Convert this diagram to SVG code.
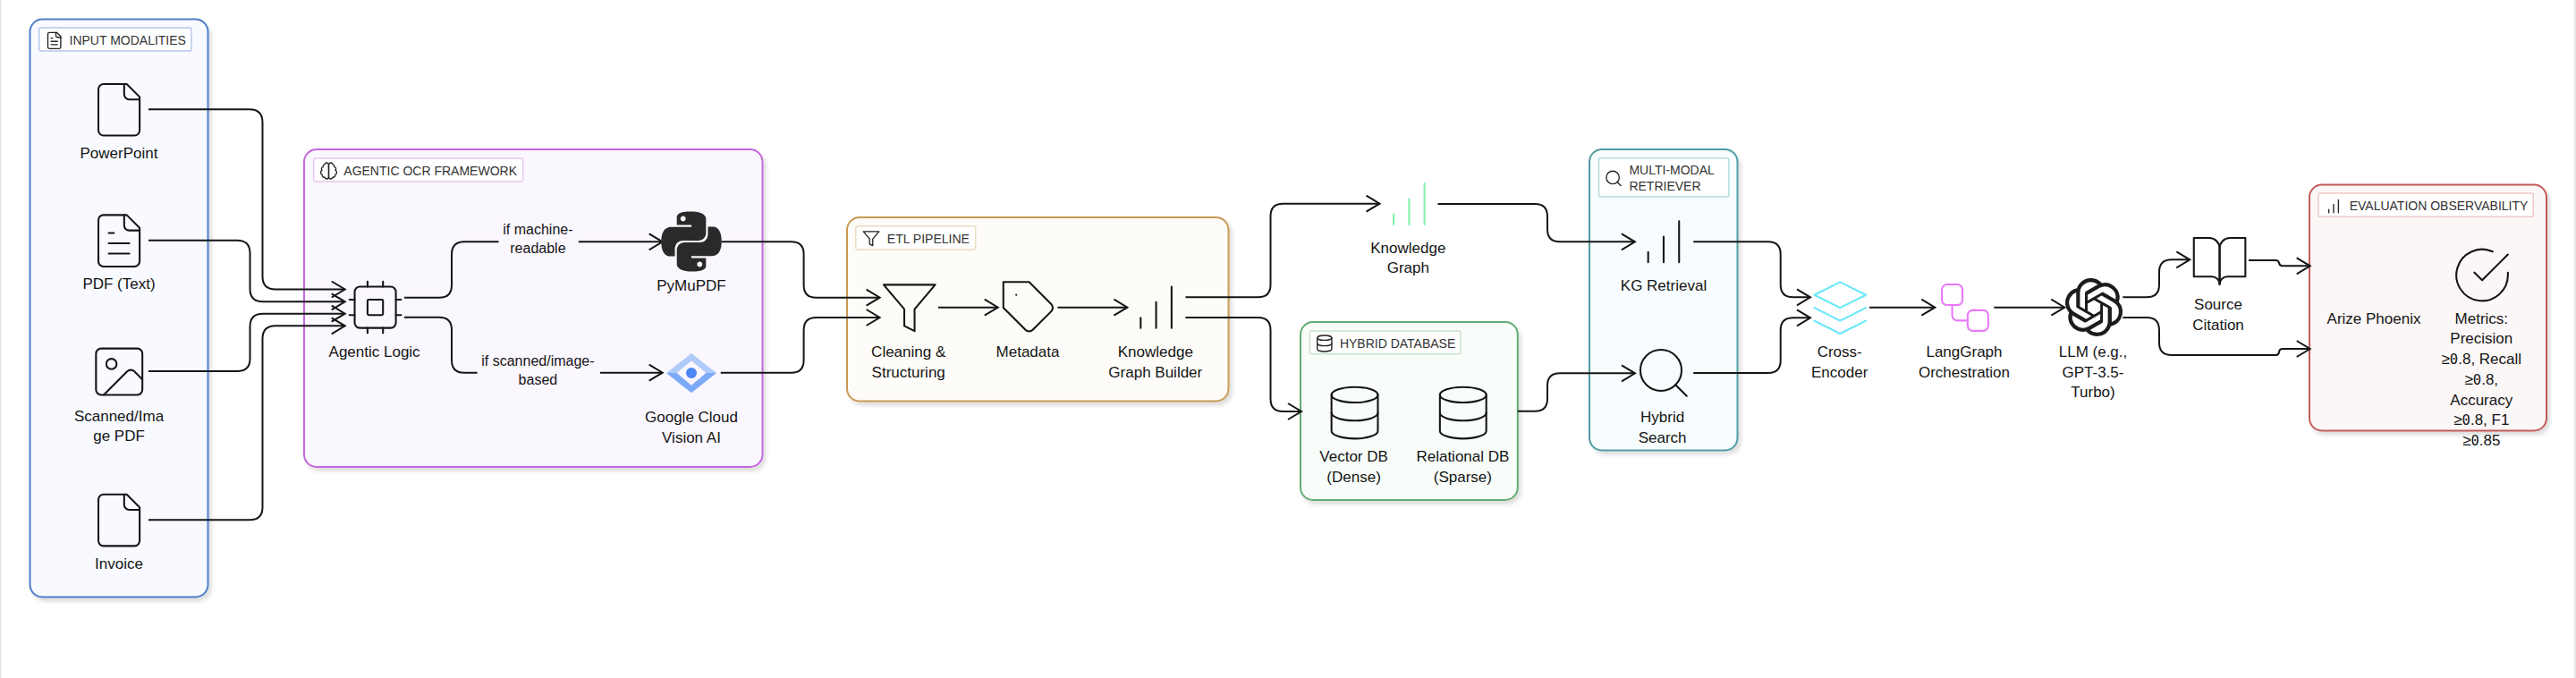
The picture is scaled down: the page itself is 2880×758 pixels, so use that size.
<svg xmlns="http://www.w3.org/2000/svg" width="2880" height="758" viewBox="0 0 2880 758">
<style>
text{font-family:"Liberation Sans",Arial,sans-serif;fill:#151515}
.n{font-size:17px;text-anchor:middle}
.e{font-size:16px;text-anchor:middle}
.h{font-size:14px;fill:#333}
.z{font-family:"DejaVu Sans Mono",monospace;font-size:15.5px}
.c{stroke-width:2;rx:14px}
.t{fill:#fff;stroke-width:1.5;rx:2px}
.i{fill:none;stroke:#151515;stroke-width:.72;stroke-linecap:round;stroke-linejoin:round}
.s{fill:none;stroke:#222;stroke-width:1.5;stroke-linecap:round;stroke-linejoin:round}
#connectors path{fill:none;stroke:#151515;stroke-width:2}
#connectors path.a{marker-end:url(#arr)}
</style>
<defs>
<filter id="sh" x="-5%" y="-5%" width="112%" height="112%"><feDropShadow dx="3" dy="4" stdDeviation="2" flood-color="#000" flood-opacity=".13"/></filter>
<marker id="arr" markerUnits="userSpaceOnUse" markerWidth="20" markerHeight="24" viewBox="-17 -12 20 24" refX="0" refY="0" orient="auto"><path d="M-15-9 L0 0 L-15 9" fill="none" stroke="#151515" stroke-width="2"/></marker>
<g id="file"><path d="M15 2H6a2 2 0 0 0-2 2v16a2 2 0 0 0 2 2h12a2 2 0 0 0 2-2V7Z"/><path d="M14 2v4a2 2 0 0 0 2 2h4"/></g>
<g id="filetext"><use href="#file"/><path d="M10 9H8M16 13H8M16 17H8"/></g>
<g id="bars"><path d="M12 20V10M18 20V4M6 20v-4"/></g>
<polygon id="funnel" points="22 3 2 3 10 12.46 10 19 14 21 14 12.46 22 3"/>
<g id="db"><ellipse cx="12" cy="5" rx="9" ry="3"/><path d="M3 5v14a9 3 0 0 0 18 0V5"/><path d="M3 12a9 3 0 0 0 18 0"/></g>
<g id="search"><circle cx="11" cy="11" r="8"/><path d="M21 21l-4.35-4.35"/></g>
</defs>
<rect width="2880" height="758" fill="#fff"/>
<rect x="0" y="0" width="1.5" height="758" fill="#e6e6e6"/>
<rect x="2878" y="0" width="2" height="758" fill="#e6e6e6"/>

<g id="cluster-input" filter="url(#sh)"><rect class="c" x="33.5" y="21.5" width="199" height="646" fill="#f8faff" stroke="#4f7fcb"/></g>
<g id="cluster-agentic" filter="url(#sh)"><rect class="c" x="340" y="167" width="512.5" height="355" fill="#fbf7fe" stroke="#c468dc"/></g>
<g id="cluster-etl" filter="url(#sh)"><rect class="c" x="947" y="243" width="426.5" height="205.5" fill="#fdfcf8" stroke="#c99a55"/></g>
<g id="cluster-hybrid" filter="url(#sh)"><rect class="c" x="1454" y="360" width="242.8" height="199" fill="#f9fdfa" stroke="#62ab76"/></g>
<g id="cluster-retriever" filter="url(#sh)"><rect class="c" x="1777" y="167" width="165.5" height="336.5" fill="#f7fdfe" stroke="#4f9ea2"/></g>
<g id="cluster-eval" filter="url(#sh)"><rect class="c" x="2582" y="206.5" width="265" height="275" fill="#fbf7f7" stroke="#c15a5a"/></g>

<g id="connectors">
<path class="a" d="M166 122.3H279Q293.5 122.3 293.5 137V309Q293.5 323.5 308 323.5H385.7"/>
<path class="a" d="M166 268.7H265Q279.5 268.7 279.5 283V323Q279.5 337.3 294 337.3H385.7"/>
<path class="a" d="M166 415H265Q279.5 415 279.5 401V365Q279.5 350.7 294 350.7H385.7"/>
<path class="a" d="M166 581.3H279Q293.5 581.3 293.5 567V378.7Q293.5 364.3 308 364.3H385.7"/>
<path d="M452 332.7H491Q505 332.7 505 318.7V284.3Q505 270.3 519 270.3H557.5"/>
<path class="a" d="M646.8 270.3H740.7"/>
<path d="M452 354.7H491Q505 354.7 505 368.7V402.7Q505 416.7 519 416.7H533.6"/>
<path class="a" d="M671 416.7H740.7"/>
<path class="a" d="M806.8 270.3H884.6Q898.6 270.3 898.6 284.3V318.7Q898.6 332.7 912.6 332.7H983.6"/>
<path class="a" d="M805.7 416.7H884.6Q898.6 416.7 898.6 402.7V369Q898.6 355 912.6 355H983.6"/>
<path class="a" d="M1049 343.7H1115.7"/>
<path class="a" d="M1182.5 343.7H1260.4"/>
<path class="a" d="M1325.4 332.3H1406.5Q1420.5 332.3 1420.5 318.3V241.7Q1420.5 227.7 1434.5 227.7H1542.5"/>
<path class="a" d="M1325.4 355H1406.5Q1420.5 355 1420.5 369V446Q1420.5 460 1434.5 460H1455"/>
<path class="a" d="M1607.5 228H1716Q1730 228 1730 242V256.3Q1730 270.3 1744 270.3H1827.9"/>
<path class="a" d="M1696.8 459.7H1716Q1730 459.7 1730 445.7V431.3Q1730 417.3 1744 417.3H1828"/>
<path class="a" d="M1893.2 270.3H1976.7Q1990.7 270.3 1990.7 284.3V318.3Q1990.7 332.3 2004.7 332.3H2024"/>
<path class="a" d="M1893.2 417H1976.7Q1990.7 417 1990.7 403V369.3Q1990.7 355.3 2004.7 355.3H2024"/>
<path class="a" d="M2090 343.7H2163.3"/>
<path class="a" d="M2229.3 343.7H2308.3"/>
<path class="a" d="M2373.3 332.3H2400Q2414 332.3 2414 318.3V304.3Q2414 290.3 2428 290.3H2448.3"/>
<path class="a" d="M2373.3 355H2400Q2414 355 2414 369V383Q2414 397 2428 397H2544Q2547.5 397 2548 393.5Q2548.5 390 2552 390H2582.7"/>
<path class="a" d="M2514 291H2544Q2547.5 291 2548 294Q2548.5 297.3 2552 297.3H2582.7"/>
</g>

<g id="label-input"><rect class="t" x="43.7" y="31" width="170.3" height="26" stroke="#b5c8ea"/><use href="#filetext" class="s" transform="translate(49.9 34.5) scale(.9)"/><text class="h" x="77.5" y="50">INPUT MODALITIES</text></g>
<g id="label-agentic"><rect class="t" x="350.7" y="177" width="233.9" height="26" stroke="#e9c6f3"/><g class="s" transform="translate(356.7 180.2) scale(.9)"><path d="M9.5 2A2.5 2.5 0 0 1 12 4.5v15a2.5 2.5 0 0 1-4.96.44 2.5 2.5 0 0 1-2.96-3.08 3 3 0 0 1-.34-5.58 2.5 2.5 0 0 1 1.32-4.24 2.5 2.5 0 0 1 1.98-3A2.5 2.5 0 0 1 9.5 2Z"/><path d="M14.5 2A2.5 2.5 0 0 0 12 4.5v15a2.5 2.5 0 0 0 4.96.44 2.5 2.5 0 0 0 2.96-3.08 3 3 0 0 0 .34-5.58 2.5 2.5 0 0 0-1.32-4.24 2.5 2.5 0 0 0-1.98-3A2.5 2.5 0 0 0 14.5 2Z"/></g><text class="h" x="384.3" y="195.7">AGENTIC OCR FRAMEWORK</text></g>
<g id="label-etl"><rect class="t" x="956.8" y="252.7" width="133.9" height="26.3" stroke="#ecdcc0"/><use href="#funnel" class="s" transform="translate(963.5 256.2) scale(.875)"/><text class="h" x="991.8" y="271.7">ETL PIPELINE</text></g>
<g id="label-hybrid"><rect class="t" x="1464.3" y="370" width="168.6" height="25.7" stroke="#c6e2cd"/><use href="#db" class="s" transform="translate(1470 373.2) scale(.9)"/><text class="h" x="1497.9" y="389">HYBRID DATABASE</text></g>
<g id="label-retriever"><rect class="t" x="1787.5" y="176.7" width="145.4" height="43.3" stroke="#b5dadc"/><use href="#search" class="s" transform="translate(1793.2 188.5) scale(.9)"/><text class="h" x="1821.4" y="195">MULTI-MODAL</text><text class="h" x="1821.4" y="212.7">RETRIEVER</text></g>
<g id="label-eval"><rect class="t" x="2592" y="216" width="240.3" height="26.3" stroke="#efc9c9"/><use href="#bars" class="s" transform="translate(2598.2 219.7) scale(.9)"/><text class="h" x="2626.7" y="235">EVALUATION OBSERVABILITY</text></g>

<g id="node-powerpoint"><use href="#file" class="i" transform="translate(98.5 88.2) scale(2.88)"/><text class="n" x="133" y="176.7">PowerPoint</text></g>
<g id="node-pdf-text"><use href="#filetext" class="i" transform="translate(98.5 234.6) scale(2.88)"/><text class="n" x="133" y="323.3">PDF (Text)</text></g>
<g id="node-scanned"><g class="i" transform="translate(98.7 381) scale(2.88)"><rect x="3" y="3" width="18" height="18" rx="2"/><circle cx="9" cy="9" r="2"/><path d="M21 15l-3.086-3.086a2 2 0 0 0-2.828 0L6 21"/></g><text class="n" x="133" y="470.7">Scanned/Ima</text><text class="n" x="133" y="493.3">ge PDF</text></g>
<g id="node-invoice"><use href="#file" class="i" transform="translate(98.5 547) scale(2.88)"/><text class="n" x="133" y="636">Invoice</text></g>

<g id="node-agentic-logic"><g class="i" transform="translate(385 309) scale(2.88)"><rect x="4" y="4" width="16" height="16" rx="2"/><rect x="9" y="9" width="6" height="6" rx=".5"/><path d="M15 2v2M15 20v2M2 15h2M2 9h2M20 15h2M20 9h2M9 2v2M9 20v2"/></g><text class="n" x="418.6" y="398.5">Agentic Logic</text></g>
<g id="edge-label-machine"><text class="e" x="601.4" y="262">if machine-</text><text class="e" x="601.4" y="283">readable</text></g>
<g id="edge-label-scanned"><text class="e" x="601.4" y="409">if scanned/image-</text><text class="e" x="601.4" y="430">based</text></g>
<g id="node-pymupdf"><path fill="#2a2a2a" transform="translate(739.4 236.4) scale(2.8)" d="M14.25.18l.9.2.73.26.59.3.45.32.34.34.25.34.16.33.1.3.04.26.02.2-.01.13V8.5l-.05.63-.13.55-.21.46-.26.38-.3.31-.33.25-.35.19-.35.14-.33.1-.3.07-.26.04-.21.02H8.77l-.69.05-.59.14-.5.22-.41.27-.33.32-.27.35-.2.36-.15.37-.1.35-.07.32-.04.27-.02.21v3.06H3.17l-.21-.03-.28-.07-.32-.12-.35-.18-.36-.26-.36-.36-.35-.46-.32-.59-.28-.73-.21-.88-.14-1.05-.05-1.23.06-1.22.16-1.04.24-.87.32-.71.36-.57.4-.44.42-.33.42-.24.4-.16.36-.1.32-.05.24-.01h.16l.06.01h8.16v-.83H6.18l-.01-2.75-.02-.37.05-.34.11-.31.17-.28.25-.26.31-.23.38-.2.44-.18.51-.15.58-.12.64-.1.71-.06.77-.04.84-.02 1.27.05zm-6.3 1.98l-.23.33-.08.41.08.41.23.34.33.22.41.09.41-.09.33-.22.23-.34.08-.41-.08-.41-.23-.33-.33-.22-.41-.09-.41.09zm13.09 3.95l.28.06.32.12.35.18.36.27.36.35.35.47.32.59.28.73.21.88.14 1.04.05 1.23-.06 1.23-.16 1.04-.24.86-.32.71-.36.57-.4.45-.42.33-.42.24-.4.16-.36.09-.32.05-.24.02-.16-.01h-8.22v.82h5.84l.01 2.76.02.36-.05.34-.11.31-.17.29-.25.25-.31.24-.38.2-.44.17-.51.15-.58.13-.64.09-.71.07-.77.04-.84.01-1.27-.04-1.07-.14-.9-.2-.73-.25-.59-.3-.45-.33-.34-.34-.25-.34-.16-.33-.1-.3-.04-.25-.02-.2.01-.13v-5.34l.05-.64.13-.54.21-.46.26-.38.3-.32.33-.24.35-.2.35-.14.33-.1.3-.06.26-.04.21-.02.13-.01h5.84l.69-.05.59-.14.5-.21.41-.28.33-.32.27-.35.2-.36.15-.36.1-.35.07-.32.04-.28.02-.21V6.07h2.09l.14.01zm-6.47 14.25l-.23.33-.08.41.08.41.23.33.33.23.41.08.41-.08.33-.23.23-.33.08-.41-.08-.41-.23-.33-.33-.23-.41-.08-.41.08z"/><text class="n" x="773" y="324.7">PyMuPDF</text></g>
<g id="node-vision"><polygon points="745,417 773,395 801,417 789.3,417 773,403.2 756.7,417" fill="#aecbfa"/><polygon points="745,417 756.7,417 773,430.8 789.3,417 801,417 773,439.3" fill="#7baaf7"/><circle cx="773" cy="417" r="6" fill="#4d86f0"/><text class="n" x="773" y="472">Google Cloud</text><text class="n" x="773" y="495">Vision AI</text></g>

<g id="node-cleaning"><use href="#funnel" class="i" transform="translate(982.2 309.7) scale(2.88)"/><text class="n" x="1015.7" y="399">Cleaning &amp;</text><text class="n" x="1015.7" y="421.7">Structuring</text></g>
<g id="node-metadata"><g class="i" transform="translate(1116 309.5) scale(2.88)"><path d="M20.59 13.41l-7.17 7.17a2 2 0 0 1-2.83 0L2 12V2h10l8.59 8.59a2 2 0 0 1 0 2.82z"/><path d="M7 7h.01"/></g><text class="n" x="1149" y="399">Metadata</text></g>
<g id="node-kg-builder"><use href="#bars" class="i" transform="translate(1258 309.1) scale(2.88)"/><text class="n" x="1291.8" y="399">Knowledge</text><text class="n" x="1291.8" y="421.7">Graph Builder</text></g>

<g id="node-kg"><use href="#bars" class="i" style="stroke:#86efac" transform="translate(1540.8 193.4) scale(2.88)"/><text class="n" x="1574.3" y="282.7">Knowledge</text><text class="n" x="1574.3" y="305.3">Graph</text></g>
<g id="node-vector-db"><use href="#db" class="i" transform="translate(1480 427) scale(2.88)"/><text class="n" x="1513.6" y="515.7">Vector DB</text><text class="n" x="1513.6" y="538.7">(Dense)</text></g>
<g id="node-relational-db"><use href="#db" class="i" transform="translate(1601.2 427) scale(2.88)"/><text class="n" x="1635.4" y="515.7">Relational DB</text><text class="n" x="1635.4" y="538.7">(Sparse)</text></g>

<g id="node-kg-retrieval"><use href="#bars" class="i" transform="translate(1825.4 235.7) scale(2.88)"/><text class="n" x="1860" y="324.7">KG Retrieval</text></g>
<g id="node-hybrid-search"><use href="#search" class="i" transform="translate(1825.3 382.3) scale(2.88)"/><text class="n" x="1858.6" y="472">Hybrid</text><text class="n" x="1858.6" y="494.7">Search</text></g>

<g id="node-cross-encoder"><g class="i" style="stroke:#67e8f9" transform="translate(2022.7 309.6) scale(2.88)"><polygon points="12 2 2 7 12 12 22 7 12 2"/><path d="M2 17l10 5 10-5"/><path d="M2 12l10 5 10-5"/></g><text class="n" x="2056.7" y="399">Cross-</text><text class="n" x="2056.7" y="421.7">Encoder</text></g>
<g id="node-langgraph"><g class="i" style="stroke:#e879f9" transform="translate(2162.4 309.4) scale(2.88)"><rect x="3" y="3" width="8" height="8" rx="2"/><path d="M7 11v4a2 2 0 0 0 2 2h4"/><rect x="13" y="13" width="8" height="8" rx="2"/></g><text class="n" x="2196" y="399">LangGraph</text><text class="n" x="2196" y="421.7">Orchestration</text></g>
<g id="node-llm"><path fill="#1c1c1c" transform="translate(2308.5 311) scale(2.71)" d="M22.2819 9.8211a5.9847 5.9847 0 0 0-.5157-4.9108 6.0462 6.0462 0 0 0-6.5098-2.9A6.0651 6.0651 0 0 0 4.9807 4.1818a5.9847 5.9847 0 0 0-3.9977 2.9 6.0462 6.0462 0 0 0 .7427 7.0966 5.98 5.98 0 0 0 .511 4.9107 6.051 6.051 0 0 0 6.5146 2.9001A5.9847 5.9847 0 0 0 13.2599 24a6.0557 6.0557 0 0 0 5.7718-4.2058 5.9894 5.9894 0 0 0 3.9977-2.9001 6.0557 6.0557 0 0 0-.7475-7.0729zm-9.022 12.6081a4.4755 4.4755 0 0 1-2.8764-1.0408l.1419-.0804 4.7783-2.7582a.7948.7948 0 0 0 .3927-.6813v-6.7369l2.02 1.1686a.071.071 0 0 1 .038.052v5.5826a4.504 4.504 0 0 1-4.4945 4.4944zm-9.6607-4.1254a4.4708 4.4708 0 0 1-.5346-3.0137l.142.0852 4.783 2.7582a.7712.7712 0 0 0 .7806 0l5.8428-3.3685v2.3324a.0804.0804 0 0 1-.0332.0615L9.74 19.9502a4.4992 4.4992 0 0 1-6.1408-1.6464zM2.3408 7.8956a4.485 4.485 0 0 1 2.3655-1.9728V11.6a.7664.7664 0 0 0 .3879.6765l5.8144 3.3543-2.0201 1.1685a.0757.0757 0 0 1-.071 0l-4.8303-2.7865A4.504 4.504 0 0 1 2.3408 7.872zm16.5963 3.8558L13.1038 8.364 15.1192 7.2a.0757.0757 0 0 1 .071 0l4.8303 2.7913a4.4944 4.4944 0 0 1-.6765 8.1042v-5.6772a.79.79 0 0 0-.407-.667zm2.0107-3.0231l-.142-.0852-4.7735-2.7818a.7759.7759 0 0 0-.7854 0L9.409 9.2297V6.8974a.0662.0662 0 0 1 .0284-.0615l4.8303-2.7866a4.4992 4.4992 0 0 1 6.6802 4.66zM8.3065 12.863l-2.02-1.1638a.0804.0804 0 0 1-.038-.0567V6.0742a4.4992 4.4992 0 0 1 7.3757-3.4537l-.142.0805L8.704 5.459a.7948.7948 0 0 0-.3927.6813zm1.0976-2.3654l2.602-1.4998 2.6069 1.4998v2.9994l-2.5974 1.4997-2.6067-1.4997Z"/><text class="n" x="2340" y="399">LLM (e.g.,</text><text class="n" x="2340" y="421.7">GPT-3.5-</text><text class="n" x="2340" y="444.3">Turbo)</text></g>
<g id="node-source"><g class="i" transform="translate(2447 257.4) scale(2.88)"><path d="M2 3h6a4 4 0 0 1 4 4v14a3 3 0 0 0-3-3H2z"/><path d="M22 3h-6a4 4 0 0 0-4 4v14a3 3 0 0 1 3-3h7z"/></g><text class="n" x="2480" y="345.7">Source</text><text class="n" x="2480" y="369">Citation</text></g>

<g id="node-arize"><text class="n" x="2654" y="361.7">Arize Phoenix</text></g>
<g id="node-metrics"><g class="i" transform="translate(2740.5 273) scale(2.88)"><path d="M22 11.08V12a10 10 0 1 1-5.93-9.14"/><path d="M22 4L12 14.01l-3-3"/></g><text class="n" x="2774.3" y="361.7">Metrics:</text><text class="n" x="2774.3" y="384.3">Precision</text><text class="n" x="2774.3" y="407">≥<tspan class="z">0</tspan>.8, Recall</text><text class="n" x="2774.3" y="430">≥<tspan class="z">0</tspan>.8,</text><text class="n" x="2774.3" y="452.7">Accuracy</text><text class="n" x="2774.3" y="475.3">≥<tspan class="z">0</tspan>.8, F1</text><text class="n" x="2774.3" y="498">≥<tspan class="z">0</tspan>.85</text></g>
</svg>
